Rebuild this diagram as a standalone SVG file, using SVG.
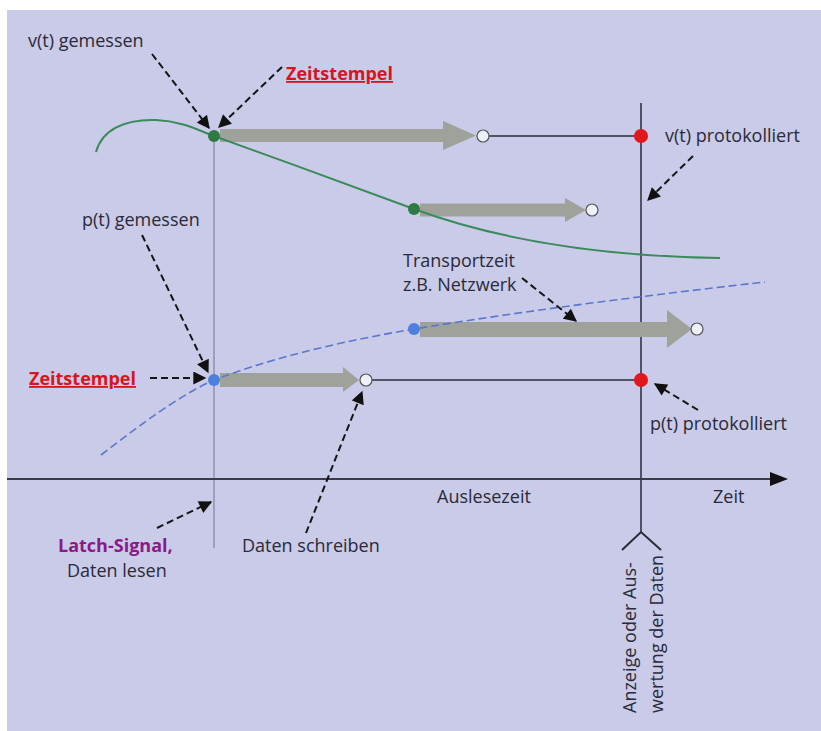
<svg xmlns="http://www.w3.org/2000/svg" width="821" height="731" viewBox="0 0 821 731">
<defs>
<marker id="ah" viewBox="0 0 10 10" refX="9" refY="5" markerWidth="7" markerHeight="6.5" orient="auto" markerUnits="strokeWidth">
<path d="M0,0 L10,5 L0,10 z" fill="#111"/>
</marker>
<style>
text{font-family:"Open Sans","Noto Sans",sans-serif;font-size:18px;fill:#2a2a38}
.red{fill:#d8141c;font-weight:bold;text-decoration:underline}
.pur{fill:#8a1a86;font-weight:bold}
.dash{fill:none;stroke:#151515;stroke-width:2;stroke-dasharray:7 4;marker-end:url(#ah)}
.gar{fill:#9fa29a}
.wd{fill:#eef0f8;stroke:#555;stroke-width:1.2}
.gd{fill:#2d7a45}
.bd{fill:#4d7fdc}
.rd{fill:#e2161c}
</style>
</defs>
<rect x="0" y="0" width="821" height="731" fill="#ffffff"/>
<rect x="7" y="10" width="814" height="721" fill="#c9cbe8"/>

<g id="axes">
<line x1="214" y1="136" x2="214" y2="548" stroke="#8a84a8" stroke-width="1.3"/>
<line x1="641" y1="103" x2="641" y2="532" stroke="#2a2a38" stroke-width="1.5"/>
<polyline points="622,550 641,532 661,550" fill="none" stroke="#2a2a38" stroke-width="2"/>
<line x1="7" y1="479" x2="772" y2="479" stroke="#3a3a4a" stroke-width="2"/>
<path d="M770,472 L788,479 L770,486 z" fill="#111"/>
</g>

<g id="transfer-arrows">
<path class="gar" d="M220,129 L443,129 L443,121 L476,135.5 L443,150 L443,142 L220,142 z"/>
<path class="gar" d="M420,203.5 L565,203.5 L565,198 L586,210 L565,222 L565,216.5 L420,216.5 z"/>
<path class="gar" d="M420,322 L667,322 L667,310 L692,329 L667,348 L667,337 L420,337 z"/>
<path class="gar" d="M220,373 L343,373 L343,367 L359,380 L343,392 L343,387 L220,387 z"/>
</g>

<g id="curves">
<path d="M96,152 C102,130 124,119 156,120 C182,121 200,131 214,136 C280,160 350,185 414,209 C490,237 590,256 720,258" fill="none" stroke="#3a8a5a" stroke-width="2"/>
<path d="M101,455 C140,425 180,395 214,380 C280,355 350,340 414,329 C530,310 650,295 765,282" fill="none" stroke="#5a78cc" stroke-width="1.6" stroke-dasharray="8 4"/>
</g>

<g id="lines">
<line x1="489" y1="136" x2="641" y2="136" stroke="#2a2a38" stroke-width="1.5"/>
<line x1="372" y1="380" x2="641" y2="380" stroke="#2a2a38" stroke-width="1.5"/>
</g>

<g id="points">
<circle class="gd" cx="214" cy="136" r="6"/>
<circle class="gd" cx="414" cy="209" r="6"/>
<circle class="bd" cx="214" cy="380" r="6"/>
<circle class="bd" cx="414" cy="329" r="6"/>
<circle class="wd" cx="483" cy="136" r="6"/>
<circle class="wd" cx="592" cy="210" r="6"/>
<circle class="wd" cx="697" cy="329" r="6"/>
<circle class="wd" cx="366" cy="380" r="6"/>
<circle class="rd" cx="641" cy="136" r="7"/>
<circle class="rd" cx="641" cy="380" r="7"/>
</g>

<g id="connectors">
<line class="dash" x1="152" y1="54" x2="209" y2="128"/>
<line class="dash" x1="282" y1="67" x2="219" y2="127"/>
<line class="dash" x1="142" y1="235" x2="208" y2="372"/>
<line class="dash" x1="150" y1="378" x2="205" y2="378"/>
<line class="dash" x1="157" y1="528" x2="211" y2="502"/>
<line class="dash" x1="306" y1="533" x2="362" y2="392"/>
<line class="dash" x1="522" y1="278" x2="576" y2="321"/>
<line class="dash" x1="693" y1="156" x2="648" y2="200"/>
<line class="dash" x1="698" y1="410" x2="655" y2="384"/>
</g>

<g id="labels">
<text x="28" y="47">v(t) gemessen</text>
<text class="red" x="286" y="80">Zeitstempel</text>
<text x="665" y="142">v(t) protokolliert</text>
<text x="82" y="226">p(t) gemessen</text>
<text x="403" y="267">Transportzeit</text>
<text x="403" y="291">z.B. Netzwerk</text>
<text class="red" x="29" y="385">Zeitstempel</text>
<text x="650" y="430">p(t) protokolliert</text>
<text x="437" y="503">Auslesezeit</text>
<text x="713" y="503">Zeit</text>
<text class="pur" x="58" y="552">Latch-Signal,</text>
<text x="67" y="577">Daten lesen</text>
<text x="242" y="552">Daten schreiben</text>
<text transform="translate(636,713) rotate(-90)">Anzeige oder Aus-</text>
<text transform="translate(663,713) rotate(-90)">wertung der Daten</text>
</g>
</svg>
